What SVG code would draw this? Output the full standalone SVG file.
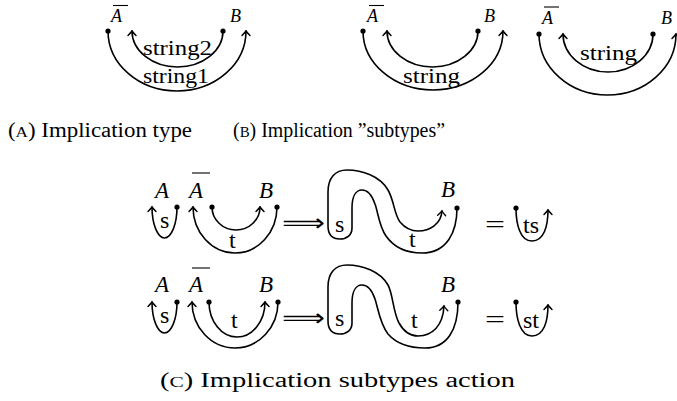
<svg xmlns="http://www.w3.org/2000/svg" width="677" height="401" viewBox="0 0 677 401">
<style>
.s{fill:none;stroke:#000;stroke-width:1.6;stroke-linecap:round}
.ar{marker-end:url(#arr)}
.d{fill:#000}
.t{font-family:"Liberation Serif",serif;fill:#000}
.m{font-family:"Liberation Serif",serif;font-style:italic;fill:#000}
.bar{stroke:#000;stroke-width:1.1}
</style>
<defs>
<marker id="arr" markerUnits="userSpaceOnUse" orient="auto" overflow="visible" refX="0" refY="0" markerWidth="10" markerHeight="10">
<path d="M-4.5,-4 Q-1.5,-1 0,0 Q-1.5,1 -4.5,4" fill="none" stroke="#000" stroke-width="1.4" stroke-linecap="round"/>
</marker>
</defs>
<rect width="677" height="401" fill="#fff"/>

<g id="connectors">
<!-- (a) -->
<path class="s ar" d="M108,31 A69,60 0 0 0 246,31"/>
<path class="s ar" d="M223,31 A45.5,36 0 0 1 132,31"/>
<!-- (b) left -->
<path class="s ar" d="M363,31 A70,59 0 0 0 503,31"/>
<path class="s ar" d="M478,31 A45.5,36 0 0 1 387,31"/>
<!-- (b) right -->
<path class="s ar" d="M539,34 A68.5,61 0 0 0 676,34"/>
<path class="s ar" d="M653,34 A45,38 0 0 1 563,34"/>
<!-- (c) row 1 -->
<path class="s ar" d="M177,207 A12.5,31 0 0 1 152,207"/>
<path class="s ar" d="M277,207 A42,46 0 0 1 193,207"/>
<path class="s ar" d="M212,207 A24,23 0 0 0 260,207"/>
<path class="s ar" d="M457,208 C457,232 447,253 422,253 C405,253 393,246 386,236 C379,226 378,212 375,204 C372,195 368,190 362,190 C355,190 352,198 352,208 L352,228 C352,235 347,239 340,239 C332,239 328,234 328,226 L328,192 C328,178 335,170 347,170 C362,170 380,176 388,190 C394,200 394,214 400,222 C405,228 410,231 418,231 C430,231 441,224 442,211"/>
<path class="s ar" d="M516,208 C516,224 520,241 532,241 C544,241 548,226 548,210"/>
<!-- (c) row 2 -->
<path class="s ar" d="M177,302 A12.5,31 0 0 1 152,302"/>
<path class="s ar" d="M278,302 A43,46 0 0 1 192,302"/>
<path class="s ar" d="M209,302 A28,35 0 0 0 265,302"/>
<path class="s ar" d="M458,302 C458,330 447,348 425,348 C407,348 395,342 388,334 C380,324 378,308 375,299 C372,290 368,285 362,285 C355,285 352,293 352,303 L352,323 C352,330 347,334 340,334 C332,334 328,329 328,321 L328,287 C328,273 335,265 347,265 C362,265 380,271 388,285 C393,294 393,312 399,323 C404,332 410,336 418,336 C432,336 443,326 444,306"/>
<path class="s ar" d="M516,302 C516,318 520,336 532,336 C544,336 548,321 548,305"/>
<!-- dots -->
<g class="d">
<circle cx="108" cy="31" r="2.6"/><circle cx="223" cy="31" r="2.6"/>
<circle cx="363" cy="31" r="2.6"/><circle cx="478" cy="31" r="2.6"/>
<circle cx="539" cy="34" r="2.6"/><circle cx="653" cy="34" r="2.6"/>
<circle cx="177" cy="207" r="2.6"/><circle cx="277" cy="207" r="2.6"/><circle cx="212" cy="207" r="2.6"/>
<circle cx="457" cy="208" r="2.6"/><circle cx="516" cy="208" r="2.6"/>
<circle cx="177" cy="302" r="2.6"/><circle cx="278" cy="302" r="2.6"/><circle cx="209" cy="302" r="2.6"/>
<circle cx="458" cy="302" r="2.6"/><circle cx="516" cy="302" r="2.6"/>
</g>
</g>

<g id="panel-a">
<g id="a-Abar"><line class="bar" x1="113" y1="5.5" x2="128" y2="5.5"/><text class="m" x="111" y="22" font-size="18">A</text></g>
<g id="a-B"><text class="m" x="230" y="22" font-size="18">B</text></g>
<g id="a-string2"><text class="t" x="143" y="55" font-size="20" textLength="69" lengthAdjust="spacingAndGlyphs">string2</text></g>
<g id="a-string1"><text class="t" x="143" y="83" font-size="20" textLength="66" lengthAdjust="spacingAndGlyphs">string1</text></g>
<g id="a-caption"><text class="t" x="8" y="137" font-size="20" textLength="184" lengthAdjust="spacingAndGlyphs">(<tspan font-size="15">A</tspan>) Implication type</text></g>
</g>

<g id="panel-b">
<g id="b1-Abar"><line class="bar" x1="369" y1="5.5" x2="384" y2="5.5"/><text class="m" x="367" y="22" font-size="18">A</text></g>
<g id="b1-B"><text class="m" x="484" y="22" font-size="18">B</text></g>
<g id="b1-string"><text class="t" x="403" y="83" font-size="20" textLength="57" lengthAdjust="spacingAndGlyphs">string</text></g>
<g id="b2-Abar"><line class="bar" x1="544" y1="7" x2="559" y2="7"/><text class="m" x="542" y="24" font-size="18">A</text></g>
<g id="b2-B"><text class="m" x="661" y="24" font-size="18">B</text></g>
<g id="b2-string"><text class="t" x="580" y="60" font-size="20" textLength="57" lengthAdjust="spacingAndGlyphs">string</text></g>
<g id="b-caption"><text class="t" x="233" y="137" font-size="20" textLength="212" lengthAdjust="spacingAndGlyphs">(<tspan font-size="15">B</tspan>) Implication ”subtypes”</text></g>
</g>

<g id="panel-c">
<g id="c1-A"><text class="m" x="155" y="198" font-size="23">A</text></g>
<g id="c1-Abar"><line class="bar" x1="192" y1="173" x2="210" y2="173"/><text class="m" x="189" y="198" font-size="23">A</text></g>
<g id="c1-B"><text class="m" x="259" y="198" font-size="23">B</text></g>
<g id="c1-s"><text class="t" x="160" y="228" font-size="24">s</text></g>
<g id="c1-t"><text class="t" x="229" y="248" font-size="24">t</text></g>
<g id="c1-imp"><text x="282" y="231" font-family="DejaVu Sans,sans-serif" font-size="24" textLength="43" lengthAdjust="spacingAndGlyphs">⟹</text></g>
<g id="c1-s2"><text class="t" x="335" y="232" font-size="24">s</text></g>
<g id="c1-t2"><text class="t" x="409" y="247" font-size="24">t</text></g>
<g id="c1-B2"><text class="m" x="441" y="197" font-size="23">B</text></g>
<g id="c1-eq"><text class="t" x="485" y="232" font-size="24" textLength="20" lengthAdjust="spacingAndGlyphs">=</text></g>
<g id="c1-ts"><text class="t" x="523" y="233" font-size="24">ts</text></g>

<g id="c2-A"><text class="m" x="155" y="292" font-size="23">A</text></g>
<g id="c2-Abar"><line class="bar" x1="192" y1="268" x2="210" y2="268"/><text class="m" x="189" y="292" font-size="23">A</text></g>
<g id="c2-B"><text class="m" x="259" y="292" font-size="23">B</text></g>
<g id="c2-s"><text class="t" x="160" y="323" font-size="24">s</text></g>
<g id="c2-t"><text class="t" x="231" y="328" font-size="24">t</text></g>
<g id="c2-imp"><text x="282" y="326" font-family="DejaVu Sans,sans-serif" font-size="24" textLength="43" lengthAdjust="spacingAndGlyphs">⟹</text></g>
<g id="c2-s2"><text class="t" x="335" y="326" font-size="24">s</text></g>
<g id="c2-t2"><text class="t" x="411" y="328" font-size="24">t</text></g>
<g id="c2-B2"><text class="m" x="441" y="292" font-size="23">B</text></g>
<g id="c2-eq"><text class="t" x="485" y="327" font-size="24" textLength="20" lengthAdjust="spacingAndGlyphs">=</text></g>
<g id="c2-st"><text class="t" x="523" y="328" font-size="24">st</text></g>
<g id="c-caption"><text class="t" x="160" y="387" font-size="20" textLength="355" lengthAdjust="spacingAndGlyphs">(<tspan font-size="15">C</tspan>) Implication subtypes action</text></g>
</g>
</svg>
